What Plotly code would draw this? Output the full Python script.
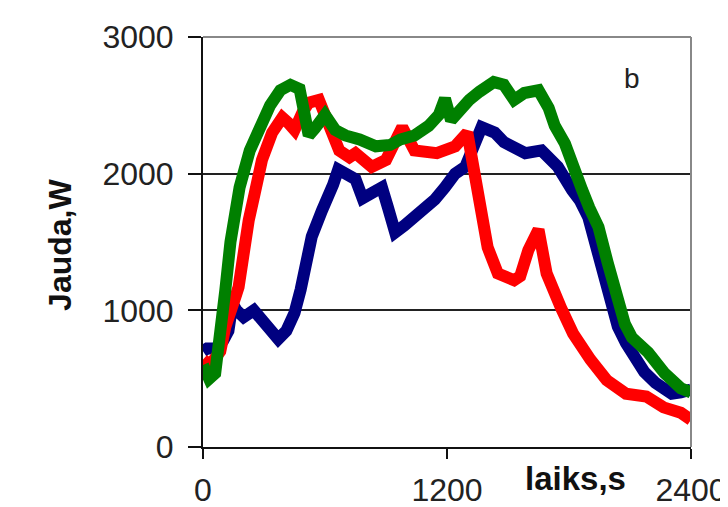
import plotly.graph_objects as go

# Blue series (time s, power W)
blue_t = [0, 20, 60, 100, 125, 145, 165, 200, 250, 290, 330, 370, 410, 450, 480, 500, 535, 585, 615, 640, 665, 700, 750, 785, 820, 880, 910, 945, 990, 1040, 1090, 1140, 1190, 1240, 1290, 1340, 1370, 1435, 1480, 1520, 1585, 1665, 1745, 1815, 1855, 1895, 1945, 1990, 2040, 2080, 2125, 2170, 2225, 2305, 2350, 2400]
blue_w = [700, 720, 720, 780, 850, 1050, 1000, 950, 1000, 940, 880, 790, 850, 980, 1150, 1320, 1540, 1730, 1810, 1920, 2030, 2000, 1960, 1820, 1850, 1900, 1750, 1570, 1620, 1680, 1740, 1810, 1900, 2000, 2050, 2270, 2340, 2300, 2230, 2200, 2150, 2170, 2050, 1880, 1800, 1680, 1420, 1170, 880, 760, 640, 550, 470, 390, 400, 420]

# Red series
red_t = [0, 30, 60, 85, 110, 125, 140, 160, 175, 200, 225, 255, 290, 340, 390, 420, 450, 490, 520, 570, 610, 670, 720, 750, 830, 900, 980, 1040, 1150, 1240, 1300, 1330, 1370, 1400, 1450, 1530, 1560, 1600, 1650, 1690, 1760, 1820, 1905, 1985, 2080, 2180, 2265, 2350, 2400]
red_w = [640, 600, 650, 700, 880, 930, 980, 1100, 1170, 1440, 1660, 1860, 2100, 2300, 2410, 2370, 2320, 2450, 2520, 2540, 2390, 2170, 2120, 2150, 2050, 2100, 2340, 2170, 2150, 2200, 2300, 2030, 1760, 1460, 1270, 1220, 1250, 1440, 1590, 1270, 1020, 830, 640, 490, 390, 370, 290, 250, 200]

# Green series
green_t = [0, 30, 60, 85, 110, 135, 160, 180, 230, 280, 330, 380, 430, 475, 500, 520, 550, 600, 650, 700, 770, 850, 920, 970, 1040, 1110, 1160, 1190, 1220, 1260, 1310, 1360, 1430, 1480, 1530, 1580, 1650, 1700, 1730, 1780, 1820, 1865, 1900, 1945, 1990, 2030, 2075, 2110, 2190, 2270, 2350, 2400]
green_w = [600, 500, 540, 780, 1150, 1500, 1770, 1900, 2170, 2350, 2500, 2610, 2650, 2620, 2450, 2280, 2330, 2430, 2320, 2280, 2250, 2200, 2210, 2250, 2280, 2350, 2430, 2550, 2390, 2470, 2540, 2600, 2670, 2650, 2540, 2590, 2610, 2480, 2350, 2220, 2030, 1880, 1750, 1610, 1350, 1110, 900, 800, 690, 540, 430, 400]

x_ticks = [0, 1200, 2400]
y_ticks = [0, 1000, 2000, 3000]

fig = go.Figure()
for t, w, c in [(blue_t, blue_w, "#000080"), (red_t, red_w, "#FF0000"), (green_t, green_w, "#008000")]:
    fig.add_trace(go.Scatter(x=t, y=w, mode="lines", line=dict(color=c, width=12),
                             showlegend=False, hoverinfo="skip"))

font_family = "Liberation Sans, Arial, sans-serif"

fig.update_layout(
    width=728, height=507,
    margin=dict(l=195, r=45, t=29, b=68, autoexpand=False),
    paper_bgcolor="white", plot_bgcolor="white",
    showlegend=False,
    xaxis=dict(range=[0, 2400], tickvals=x_ticks, ticktext=[str(v) for v in x_ticks],
               automargin=False,
               showgrid=False, zeroline=False, showline=True, linecolor="#111", linewidth=2,
               ticks="outside", ticklen=10, tickwidth=2, tickcolor="#111",
               tickfont=dict(family=font_family, size=32, color="#222"),
               ticklabelstandoff=4),
    yaxis=dict(range=[0, 3000], tickvals=y_ticks, ticktext=[str(v) for v in y_ticks],
               automargin=False,
               showgrid=True, gridcolor="#222", gridwidth=1.5, zeroline=False,
               showline=True, linecolor="#111", linewidth=2,
               ticks="outside", ticklen=13, tickwidth=2, tickcolor="#111",
               tickfont=dict(family=font_family, size=32, color="#222"),
               ticklabelstandoff=8),
)

# Top and right frame lines (gray)
fig.add_shape(type="line", xref="paper", yref="paper", x0=0, x1=1, y0=1, y1=1,
              line=dict(color="#888", width=2))
fig.add_shape(type="line", xref="paper", yref="paper", x0=1, x1=1, y0=0, y1=1,
              line=dict(color="#888", width=2))

fig.add_annotation(text="<b>laiks,s</b>", xref="paper", yref="paper", x=0.764, y=-0.078,
                   xanchor="center", yanchor="middle",
                   showarrow=False, font=dict(family=font_family, size=33, color="#111"))
fig.add_annotation(text="<b>Jauda,W</b>", xref="paper", yref="paper", x=-0.293, y=0.493,
                   xanchor="center", yanchor="middle",
                   textangle=-90, showarrow=False,
                   font=dict(family=font_family, size=32, color="#111"))
fig.add_annotation(text="b", xref="paper", yref="paper", x=0.879, y=0.9,
                   xanchor="center", yanchor="middle",
                   showarrow=False, font=dict(family=font_family, size=28, color="#222"))

fig.write_html("out.html")
